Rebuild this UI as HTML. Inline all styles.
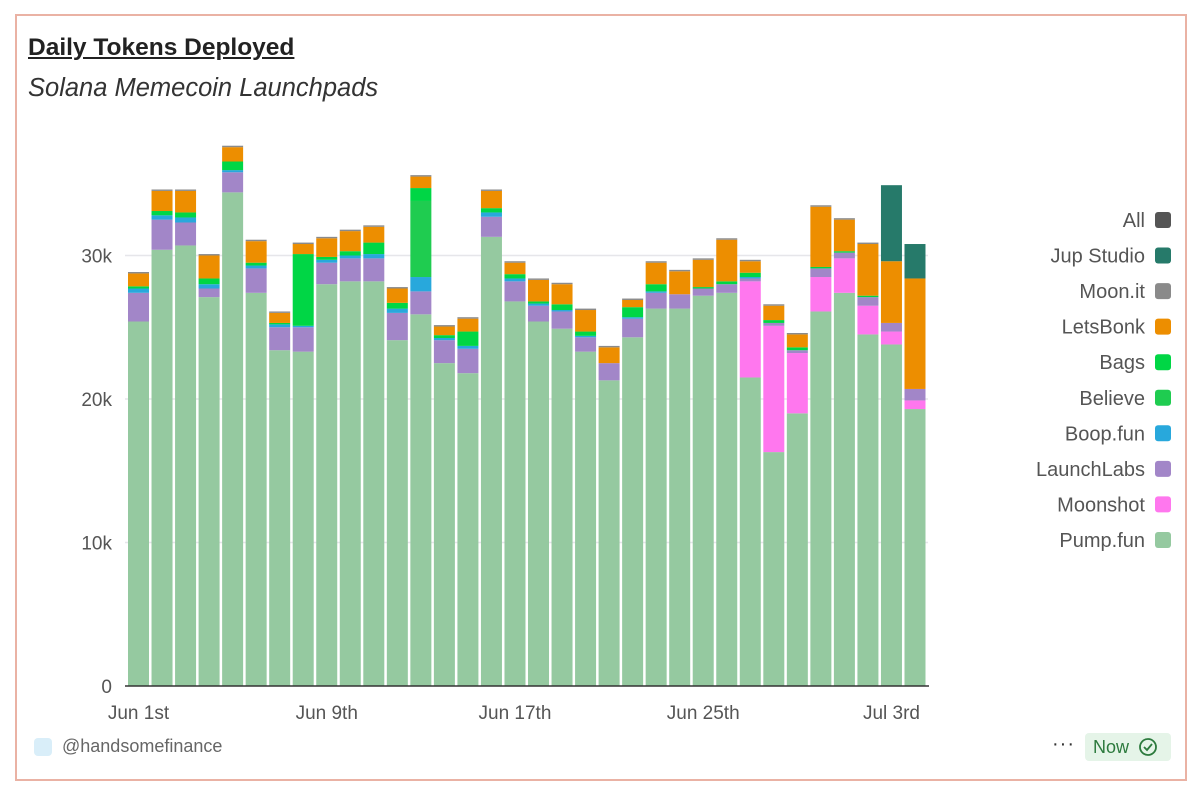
<!DOCTYPE html>
<html><head><meta charset="utf-8">
<style>
body{margin:0;width:1200px;height:792px;background:#fff;font-family:"Liberation Sans",sans-serif;overflow:hidden;position:relative}
.frame{position:absolute;left:15px;top:14px;width:1172px;height:767px;border:2px solid #eab2a4;box-sizing:border-box}
.title{position:absolute;left:28px;top:34px;font-size:24.5px;font-weight:bold;text-decoration:underline;color:#222}
.sub{position:absolute;left:28px;top:74px;font-size:25.5px;font-style:italic;color:#333}
.foot{position:absolute;left:62px;top:736px;font-size:18px;color:#666}
.ficon{position:absolute;left:34px;top:738px;width:18px;height:18px;border-radius:4px;background:#d9eef9}
.dots{position:absolute;left:1052px;top:733px;font-size:20px;color:#333;letter-spacing:1px}
.now{position:absolute;left:1085px;top:733px;width:86px;height:28px;background:#e5f4e8;border-radius:4px;color:#2c7a3d;font-size:18px;line-height:28px;padding-left:8px;box-sizing:border-box}
</style></head><body>
<div class="frame"></div>
<div class="title">Daily Tokens Deployed</div>
<div class="sub">Solana Memecoin Launchpads</div>
<div class="ficon"></div>
<div class="foot">@handsomefinance</div>
<div class="dots">···</div>
<div class="now">Now <svg width="20" height="20" viewBox="0 0 20 20" style="vertical-align:-4px;margin-left:4px"><circle cx="10" cy="10" r="8" fill="none" stroke="#2c7a3d" stroke-width="1.8"/><path d="M6 10l3 3 5-6" fill="none" stroke="#2c7a3d" stroke-width="1.8"/></svg></div>
<svg id="chart" width="1200" height="792" style="position:absolute;left:0;top:0"></svg>
<script>
const seriesNames=["Pump.fun","Moonshot","LaunchLabs","Boop.fun","Believe","Bags","LetsBonk","Moon.it","Jup Studio"];
const seriesColors=["#95c9a0","#ff77ee","#a286c8","#28a8dc","#1fcc50","#00d645","#ed8e00","#8a8a8a","#267a6a"];
const pump=[25.4,30.4,30.7,27.1,34.4,27.4,23.4,23.3,28.0,28.2,28.2,24.1,25.9,22.5,21.8,31.3,26.8,25.4,24.9,23.3,21.3,24.3,26.3,26.3,27.2,27.4,21.5,16.3,19.0,26.1,27.4,24.5,23.8,19.3];
const moonshot=[0,0,0,0,0,0,0,0,0,0,0,0,0,0,0,0,0,0,0,0,0,0,0,0,0,0,6.7,8.8,4.2,2.4,2.4,2.0,0.9,0.6];
const launchlabs=[2.0,2.1,1.6,0.6,1.4,1.7,1.6,1.7,1.5,1.6,1.6,1.9,1.6,1.6,1.7,1.4,1.4,1.1,1.2,1.0,1.2,1.3,1.1,1.0,0.5,0.6,0.2,0.2,0.2,0.6,0.4,0.6,0.6,0.8];
const boop=[0.3,0.3,0.35,0.3,0.15,0.2,0.2,0.1,0.2,0.2,0.3,0.3,1.0,0.15,0.2,0.3,0.2,0.15,0.1,0.1,0,0.1,0.1,0,0,0,0.1,0,0,0,0,0,0,0];
const believe=[0,0,0,0,0,0,0,0,0,0,0,0,5.3,0,0,0,0,0,0,0,0,0,0,0,0,0,0,0,0,0,0,0,0,0];
const bags=[0.15,0.3,0.35,0.4,0.6,0.2,0.1,5.0,0.2,0.3,0.8,0.4,0.9,0.2,1.0,0.3,0.3,0.15,0.4,0.3,0,0.7,0.5,0,0.1,0.2,0.3,0.2,0.2,0.1,0.1,0.1,0,0];
const letsbonk=[0.9,1.4,1.5,1.6,1.0,1.5,0.7,0.7,1.3,1.4,1.1,1.0,0.8,0.6,0.9,1.2,0.8,1.5,1.4,1.5,1.1,0.5,1.5,1.6,1.9,2.9,0.8,1.0,0.9,4.2,2.2,3.6,4.3,7.7];
const moonit=[0.1,0.1,0.1,0.1,0.1,0.1,0.1,0.1,0.1,0.1,0.1,0.1,0.1,0.1,0.1,0.1,0.1,0.1,0.1,0.1,0.1,0.1,0.1,0.1,0.1,0.1,0.1,0.1,0.1,0.1,0.1,0.1,0,0];
const jup=[0,0,0,0,0,0,0,0,0,0,0,0,0,0,0,0,0,0,0,0,0,0,0,0,0,0,0,0,0,0,0,0,5.3,2.4];
const yTicks=[0,10,20,30];
const yTickLabels=["0","10k","20k","30k"];
const xTickIdx=[0,8,16,24,32];
const xTickLabels=["Jun 1st","Jun 9th","Jun 17th","Jun 25th","Jul 3rd"];
const legendNames=["All","Jup Studio","Moon.it","LetsBonk","Bags","Believe","Boop.fun","LaunchLabs","Moonshot","Pump.fun"];
const legendColors=["#555555","#267a6a","#8a8a8a","#ed8e00","#00d645","#1fcc50","#28a8dc","#a286c8","#ff77ee","#95c9a0"];

const svg=document.getElementById('chart');const NS="http://www.w3.org/2000/svg";
const X0=128,STEP=23.53,BW=21,Y0=686,PPK=14.35;
const xs=i=>X0+i*STEP;const ys=v=>Y0-v*PPK;
function mk(t,a){const e=document.createElementNS(NS,t);for(const k in a)e.setAttribute(k,a[k]);svg.appendChild(e);return e;}
yTicks.forEach((v,i)=>{
  if(v>0){const g=mk('line',{x1:125,x2:928,y1:ys(v),y2:ys(v),stroke:'#e6e6ea','stroke-width':1.5});
  
  }
  const t=mk('text',{x:112,y:ys(v)+7,'text-anchor':'end','font-size':19,fill:'#555','font-family':'Liberation Sans'});t.textContent=yTickLabels[i];
  
  
});
const all=[pump,moonshot,launchlabs,boop,believe,bags,letsbonk,moonit,jup];
for(let i=0;i<pump.length;i++){let acc=0;
  all.forEach((s,k)=>{const v=s[i];if(v<=0)return;
    const r=mk('rect',{x:xs(i),y:ys(acc+v),width:BW,height:v*PPK,fill:seriesColors[k]});
    
    
    acc+=v;});
}
const ax=mk('line',{x1:125,x2:929,y1:Y0,y2:Y0,stroke:'#333','stroke-width':1.5});


xTickIdx.forEach((idx,i)=>{
  const t=mk('text',{x:xs(idx)+BW/2,y:719,'text-anchor':'middle','font-size':19,fill:'#555','font-family':'Liberation Sans'});t.textContent=xTickLabels[i];
  
  
});
legendNames.forEach((n,i)=>{const y=220+i*35.55;
  const t=mk('text',{x:1145,y:y+7,'text-anchor':'end','font-size':20,fill:'#555','font-family':'Liberation Sans'});t.textContent=n;
  
  
  const r=mk('rect',{x:1155,y:y-8,width:16,height:16,rx:3,fill:legendColors[i]});
  
  
});
</script>
</body></html>
